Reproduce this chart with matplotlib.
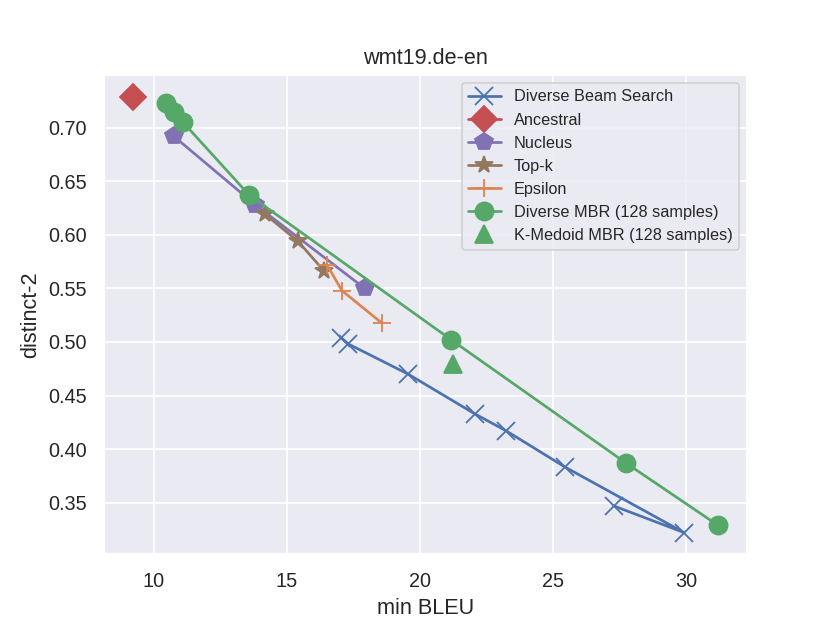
import matplotlib
matplotlib.use("Agg")
import matplotlib.pyplot as plt
import seaborn as sns

sns.set_theme(style="darkgrid")
plt.rcParams['font.family'] = ['Liberation Sans', 'DejaVu Sans']

# Data
dbs_x = [17.04, 17.32, 19.56, 22.06, 23.25, 25.44, 29.94, 27.29]
dbs_y = [0.504, 0.498, 0.470, 0.433, 0.417, 0.3835, 0.322, 0.347]
anc_x = [9.22]
anc_y = [0.729]
nuc_x = [10.75, 13.82, 17.93]
nuc_y = [0.692, 0.628, 0.550]
topk_x = [14.19, 15.42, 16.41]
topk_y = [0.619, 0.594, 0.566]
eps_x = [16.51, 17.07, 18.58]
eps_y = [0.572, 0.548, 0.5175]
dmbr_x = [10.47, 10.77, 11.10, 13.59, 21.18, 27.75, 31.20]
dmbr_y = [0.723, 0.715, 0.705, 0.637, 0.502, 0.387, 0.329]
kmed_x = [21.26]
kmed_y = [0.479]

pal = sns.color_palette("deep")
blue, orange, green, red, purple, brown = pal[0], pal[1], pal[2], pal[3], pal[4], pal[5]

fig, ax = plt.subplots(figsize=(830/130, 623/130), dpi=130)
ms = 10
ax.plot(dbs_x, dbs_y, marker='x', color=blue, ms=ms, label='Diverse Beam Search')
ax.plot(anc_x, anc_y, marker='D', color=red, ms=ms, label='Ancestral')
ax.plot(nuc_x, nuc_y, marker='p', color=purple, ms=ms, label='Nucleus')
ax.plot(topk_x, topk_y, marker='*', color=brown, ms=ms, label='Top-k')
ax.plot(eps_x, eps_y, marker='+', color=orange, ms=ms, label='Epsilon')
ax.plot(dmbr_x, dmbr_y, marker='o', color=green, ms=ms, label='Diverse MBR (128 samples)')
ax.plot(kmed_x, kmed_y, marker='^', color=green, ms=ms, linestyle='none', label='K-Medoid MBR (128 samples)')

ax.set_title('wmt19.de-en', fontsize=12)
ax.set_xlabel('min BLEU', fontsize=12)
ax.set_ylabel('distinct-2', fontsize=12)
ax.tick_params(labelsize=11)
ax.legend(loc='upper right', fontsize=9)

fig.savefig('out.png', dpi=130)
